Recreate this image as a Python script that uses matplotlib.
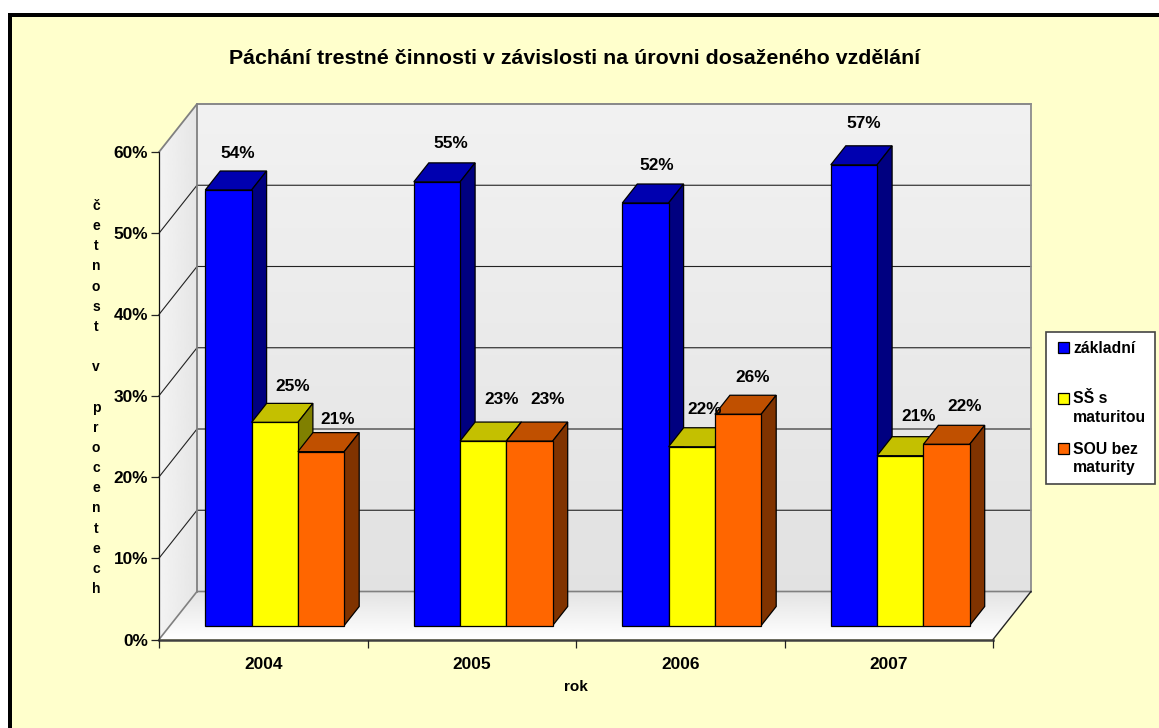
import numpy as np
import matplotlib
matplotlib.use("Agg")
import matplotlib.pyplot as plt
from matplotlib.patches import Rectangle, Polygon
from matplotlib.legend_handler import HandlerPatch

plt.rcParams['font.family'] = ['Liberation Sans', 'DejaVu Sans']
plt.rcParams['font.weight'] = 'bold'

years = ['2004', '2005', '2006', '2007']
zakladni = [53.6, 54.6, 52.0, 56.7]
ss_maturita = [25.0, 22.7, 22.0, 20.9]
sou_bez = [21.4, 22.7, 26.0, 22.3]
series_names = ['základní\n', 'SŠ s\nmaturitou', 'SOU bez\nmaturity']
y_ticks = [0, 10, 20, 30, 40, 50, 60]
title = 'Páchání trestné činnosti v závislosti na úrovni dosaženého vzdělání'
ylabel = 'četnost v procentech'
xlabel = 'rok'

W, H = 1159, 728
BG = '#FFFFCC'
fronts = ['#0000FF', '#FFFF00', '#FF6600']
tops = ['#0000B0', '#C4C000', '#C05000']
sides = ['#000080', '#808000', '#803300']
# hand placement of the value labels, in pixels: (right, down), per year then per series
label_nudge = [[(-2, 3), (0, 3), (-1, 7)],
               [(3, 1), (0, -3), (0, -3)],
               [(0, 1), (-5, 2), (-3, 2)],
               [(-1, -2), (0, 0), (0, 1)]]

fig = plt.figure(figsize=(W / 100, H / 100), dpi=100, facecolor='white')


def px_rect(x0, y0, x1, y1, color):
    fig.add_artist(Rectangle((x0 / W, 1 - y1 / H), (x1 - x0) / W, (y1 - y0) / H,
                             transform=fig.transFigure, facecolor=color, edgecolor='none',
                             zorder=-5))


px_rect(8, 13, W, H, 'black')
px_rect(12, 17, W, H, BG)

ax = fig.add_axes([159 / W, 1 - 639.5 / H, 834 / W, 487.5 / H])
ax.patch.set_visible(False)
ax.set_xlim(0, 4)
ax.set_ylim(0, 60)

px_x = 4 / 834
px_y = 60 / 487.5
DX, DY = 38 * px_x, 48 * px_y
BASE_X, BASE_Y = 11.5 * px_x, 14 * px_y
BAR_DX, BAR_DY = 15 * px_x, 19 * px_y
BAR_W = 46.3 * px_x


def gradient(c_start, c_end, extent, clip=None, horizontal=False):
    vals = np.linspace(c_start, c_end, 128)
    img = vals.reshape(1, -1) if horizontal else vals.reshape(-1, 1)
    im = ax.imshow(img, cmap='gray', vmin=0, vmax=1, extent=extent, aspect='auto',
                   origin='upper', zorder=0.5, interpolation='bilinear')
    im.set_clip_box(fig.bbox)
    if clip is not None:
        patch = Polygon(clip, closed=True, transform=ax.transData, facecolor='none', edgecolor='none')
        patch.set_clip_on(False)
        ax.add_patch(patch)
        im.set_clip_path(patch)
        im.set_clip_box(fig.bbox)
    return im


ymax = y_ticks[-1]
xmax = len(years)
# walls and floor
gradient(0.945, 0.885, (DX, xmax + DX, DY, ymax + DY))
gradient(0.955, 0.90, (0, DX, 0, ymax + DY),
         clip=[(0, 0), (DX, DY), (DX, ymax + DY), (0, ymax)], horizontal=True)
gradient(0.89, 1.0, (0, xmax + DX, 0, DY),
         clip=[(0, 0), (DX, DY), (xmax + DX, DY), (xmax, 0)])
ax.set_xlim(0, 4)
ax.set_ylim(0, 60)

# grid lines
for v in y_ticks[1:-1]:
    ax.plot([0, DX, xmax + DX], [v, v + DY, v + DY], color='#222222', lw=0.8,
            zorder=1, clip_on=False)
ax.plot([0, DX, xmax + DX], [ymax, ymax + DY, ymax + DY], color='#808080', lw=1.3, zorder=1, clip_on=False)
ax.plot([DX, DX], [DY, ymax + DY], color='#808080', lw=1.3, zorder=1, clip_on=False)
ax.plot([xmax + DX, xmax + DX], [DY, ymax + DY], color='#8C8C8C', lw=1.3, zorder=1, clip_on=False)
ax.plot([0, DX, xmax + DX], [0, DY, DY], color='#808080', lw=1.2, zorder=1, clip_on=False)
ax.plot([xmax, xmax + DX], [0, DY], color='#222222', lw=1.0, zorder=1, clip_on=False)

# bars
all_series = [zakladni, ss_maturita, sou_bez]
label_dx = [11, 18, 18]
z = 2.0
legend_handles = []
for i in range(len(years)):
    for s, values in enumerate(all_series):
        v = values[i]
        left = i + 0.5 + BASE_X + (s - 1.5) * BAR_W
        right = left + BAR_W
        top = v + BASE_Y
        ax.fill([left, left + BAR_DX, right + BAR_DX, right],
                [top, top + BAR_DY, top + BAR_DY, top],
                facecolor=tops[s], edgecolor='black', lw=0.9, zorder=z, clip_on=False)
        ax.fill([right, right + BAR_DX, right + BAR_DX, right],
                [BASE_Y, BASE_Y + BAR_DY, top + BAR_DY, top],
                facecolor=sides[s], edgecolor='black', lw=0.9, zorder=z, clip_on=False)
        cont = ax.bar(left, v, width=BAR_W, bottom=BASE_Y, align='edge',
                      facecolor=fronts[s], edgecolor='black', lw=0.9, zorder=z + 0.1,
                      clip_on=False)
        if i == 0:
            legend_handles.append(cont[0])
        nx, ny = label_nudge[i][s]
        ax.annotate(f'{round(v)}%', xy=(left + BAR_W / 2, top),
                    xytext=((label_dx[s] + nx) * 0.72, (39 - ny) * 0.72),
                    textcoords='offset points', ha='center', va='center', fontsize=12.4,
                    fontweight='bold', color='black', zorder=20, annotation_clip=False)
        z += 0.2

ax.set_xlim(0, 4)
ax.set_ylim(0, 60)

# axes
for sp in ('top', 'right'):
    ax.spines[sp].set_visible(False)
ax.spines['left'].set_color('#111111')
ax.spines['left'].set_linewidth(0.9)
ax.spines['bottom'].set_color('#404040')
ax.spines['bottom'].set_linewidth(1.8)
ax.spines['left'].set_zorder(1.5)
ax.spines['bottom'].set_zorder(1.5)
ax.set_yticks(y_ticks)
ax.set_yticklabels([f'{v}%' for v in y_ticks], fontsize=12.4, fontweight='bold')
ax.set_xticks(range(len(years) + 1))
ax.set_xticklabels([''] * (len(years) + 1))
ax.set_xticks(np.arange(len(years)) + 0.5, minor=True)
ax.set_xticklabels(years, minor=True, fontsize=12.4, fontweight='bold')
ax.tick_params(axis='y', length=5.5, width=0.9, pad=2.5, color='#222222')
ax.tick_params(axis='x', which='major', length=6, width=0.9, color='#222222')
ax.tick_params(axis='x', which='minor', length=0, pad=12.5)

fig.text(575 / W, 1 - 58 / H, title, ha='center', va='center', fontsize=15.4, fontweight='bold')
fig.text(576 / W, 1 - 687 / H, xlabel, ha='center', va='center', fontsize=11, fontweight='bold')
fig.text(96 / W, 1 - 397.5 / H, '\n'.join(ylabel), ha='center', va='center', fontsize=10,
         fontweight='bold', linespacing=1.56)


# legend
def legend_patch(legend, orig_handle, xdescent, ydescent, width, height, fontsize):
    return Rectangle((xdescent + 2.7, ydescent + 7.6), width, height)


leg = fig.legend(handles=legend_handles, labels=series_names,
                 loc='upper left', bbox_to_anchor=(1045.5 / W, 1 - 332.5 / H),
                 bbox_transform=fig.transFigure, fontsize=11.3, fancybox=False,
                 frameon=True, framealpha=1, facecolor='white', edgecolor='#444444',
                 handlelength=0.7, handleheight=0.7, handletextpad=0.515, labelspacing=1.08,
                 borderpad=0.55, borderaxespad=0,
                 handler_map={matplotlib.patches.Rectangle: HandlerPatch(patch_func=legend_patch)})
leg.get_frame().set_linewidth(1.2)
for t in leg.get_texts():
    t.set_linespacing(1.28)
    t.set_fontweight('bold')

fig.savefig('out.png', dpi=100, facecolor=fig.get_facecolor())
